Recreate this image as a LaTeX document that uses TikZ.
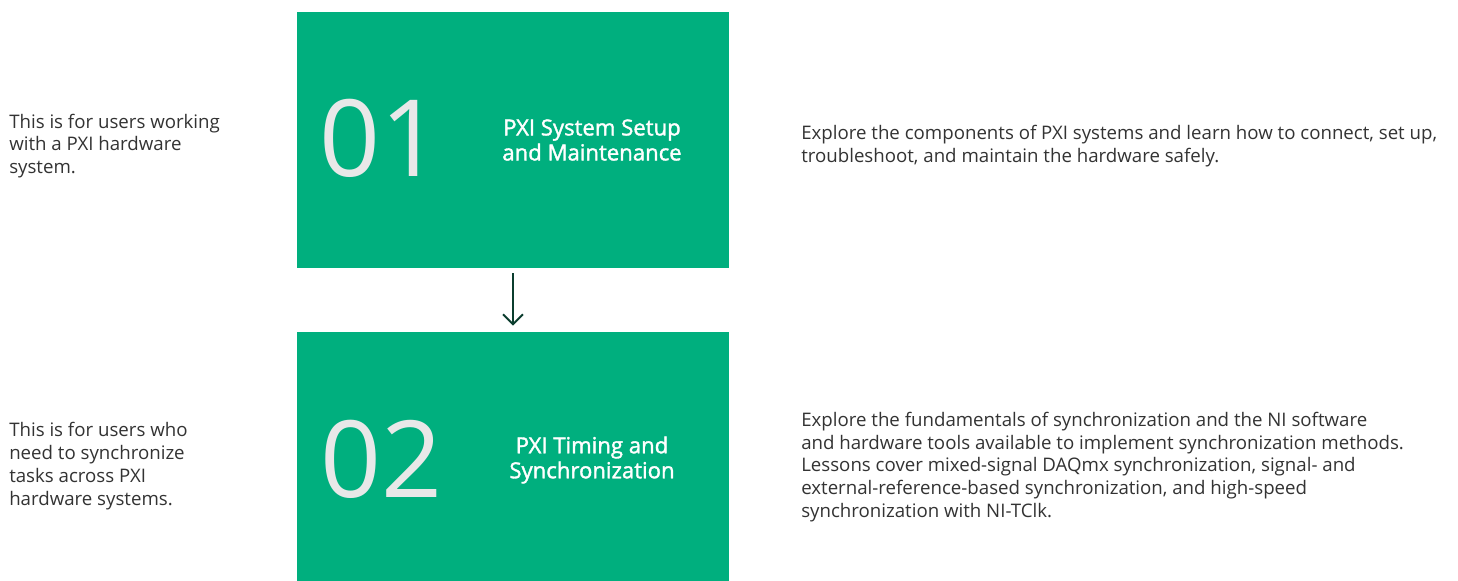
\documentclass[tikz,border=0pt]{standalone}
\usepackage{fontspec}
\setmainfont{Open Sans}
\newfontfamily\titlefont{Open Sans}[FakeBold=1.6]
\usetikzlibrary{arrows.meta}
\definecolor{pxigreen}{HTML}{00AF7E}
\definecolor{numgray}{HTML}{E8E8E8}
\definecolor{textgray}{HTML}{333333}
\definecolor{arrowgreen}{HTML}{0B3D2E}
\tikzset{
  stepbox/.style={fill=pxigreen,inner sep=0pt,minimum width=324pt,minimum height=192pt},
  bignum/.style={text=numgray,inner sep=0pt,font=\fontsize{80}{80}\selectfont},
  boxtitle/.style={text=white,inner sep=0pt,align=center,font=\titlefont\fontsize{16.6}{18.75}\selectfont},
  note/.style={text=textgray,inner sep=0pt,anchor=west,align=left,font=\fontsize{14}{17.1}\selectfont},
  flow/.style={arrowgreen,line width=1.5pt,-{Straight Barb[length=7.5pt,width=15pt]}}
}
\begin{document}
\begin{tikzpicture}[x=0.75pt,y=-0.75pt]
    \useasboundingbox (0,0) rectangle (1458,581);
    \clip (0,0) rectangle (1458,581);
    \fill[white] (0,0) rectangle (1458,581);
    % step boxes
    \node[stepbox] (box1) at (513,140) {};
    \node[stepbox] (box2) at (513,460) {};
    \node[bignum] (num1) at (380,138) {01};
    \node[bignum] (num2) at (381,459) {02};
    \node[boxtitle] (title1) at (592,140) {PXI System Setup\\and Maintenance};
    \node[boxtitle] (title2) at (592,460) {PXI Timing and\\Synchronization};
    \draw[flow,shorten <=3.75pt,shorten >=4.5pt] (box1) -- (box2);
    % left notes
    \node[note] (who1) at (9,146) {This is for users working\\with a PXI hardware\\system.};
    \node[note] (who2) at (9,466) {This is for users who\\need to synchronize\\tasks across PXI\\hardware systems.};
    % right notes
    \node[note] (what1) at (801,146) {Explore the components of PXI systems and learn how to connect, set up,\\troubleshoot, and maintain the hardware safely.};
    \node[note] (what2) at (801,467) {Explore the fundamentals of synchronization and the NI software\\and hardware tools available to implement synchronization methods.\\Lessons cover mixed-signal DAQmx synchronization, signal- and\\external-reference-based synchronization, and high-speed\\synchronization with NI-TClk.};
\end{tikzpicture}
\end{document}
